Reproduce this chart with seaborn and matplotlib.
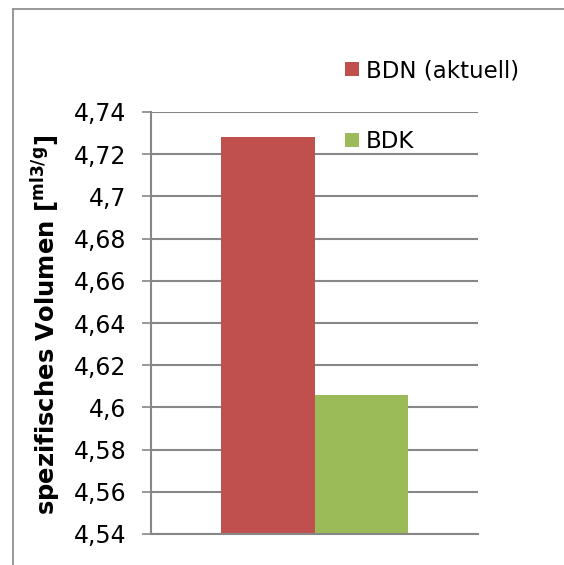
import matplotlib
matplotlib.use("Agg")
import matplotlib.pyplot as plt
import matplotlib.ticker as mticker
from matplotlib.lines import Line2D
import seaborn as sns
import pandas as pd

# data
series = ["BDN (aktuell)", "BDK"]
values = [4.728, 4.606]
colours = ["#C0504D", "#9BBB59"]
y_ticks = [4.54, 4.56, 4.58, 4.60, 4.62, 4.64, 4.66, 4.68, 4.70, 4.72, 4.74]

df = pd.DataFrame({"Gruppe": [""] * len(series), "Serie": series, "Wert": values})

sns.set_style("white")
plt.rcParams["font.family"] = ["DejaVu Sans"]
plt.rcParams["text.color"] = "black"
grey = "#878787"

fig = plt.figure(figsize=(5.64, 5.65), dpi=100)
ax = fig.add_axes([151 / 564, 31 / 565, 327 / 564, 422 / 565])

sns.barplot(data=df, x="Gruppe", y="Wert", hue="Serie", palette=colours,
            width=0.572, gap=0, saturation=1, edgecolor="none", ax=ax, legend=True)

ax.set_ylim(4.54, 4.74)
ax.set_xlim(-0.5, 0.5)
ax.set_yticks(y_ticks)
ax.yaxis.set_major_formatter(mticker.FuncFormatter(
    lambda v, p: ("%.2f" % v).rstrip("0").rstrip(".").replace(".", ",")))
ax.grid(axis="y", color=grey, linewidth=1.5)
ax.set_axisbelow(True)
ax.tick_params(axis="y", length=6.5, width=1.2, color=grey, pad=11, labelsize=17,
               labelcolor="black", left=True)
ax.tick_params(axis="x", bottom=False, labelbottom=False)
ax.set_xlabel("")
for s in ["top", "right"]:
    ax.spines[s].set_visible(False)
ax.spines["left"].set_color(grey)
ax.spines["left"].set_linewidth(1.5)
ax.spines["bottom"].set_color(grey)
ax.spines["bottom"].set_linewidth(1.5)

ax.set_ylabel(r"spezifisches Volumen [$^{\mathbf{ml3/g}}$]", fontsize=17.5,
              fontweight="bold", color="black")
ax.yaxis.set_label_coords(-88 / 327, 0.495)

handles, labels = ax.get_legend_handles_labels()
ax.legend(handles=handles, labels=labels, loc="upper left",
          bbox_to_anchor=(345 / 564, 1 - 59 / 565), bbox_transform=fig.transFigure,
          frameon=False, fontsize=16.5, handlelength=0.62, handleheight=0.62,
          handletextpad=0.3, labelspacing=2.1, borderpad=0, borderaxespad=0,
          labelcolor="black")

# chart area frame (cropped: only left and top edges visible)
x0, y0 = 12.5 / 564, 1 - 8.5 / 565
fig.add_artist(Line2D([x0, x0], [0, y0], transform=fig.transFigure,
                      color=grey, linewidth=1.2))
fig.add_artist(Line2D([x0, 1], [y0, y0], transform=fig.transFigure,
                      color=grey, linewidth=1.2))

fig.savefig("out.png", dpi=100)
